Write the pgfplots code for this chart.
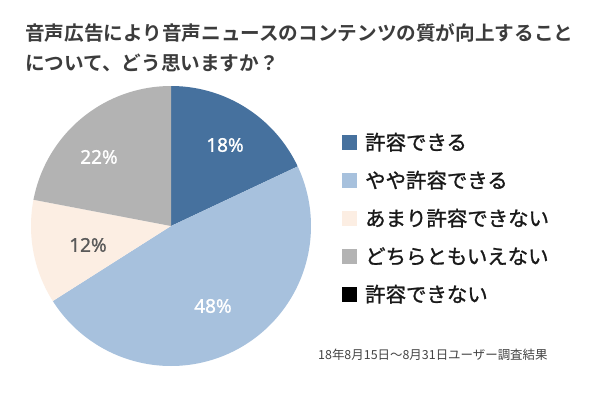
\documentclass[border=0pt]{standalone}
\usepackage{fontspec}
\setmainfont{Noto Sans CJK JP}[BoldFont={Noto Sans CJK JP Bold}]
\newfontfamily\legfont{Noto Sans CJK JP}[FakeBold=1.2]
\newfontfamily\numfont{Noto Sans}[FakeBold=1.0]
\usepackage{pgfplots}
\pgfplotsset{compat=1.18}
\definecolor{c1}{HTML}{46719E}
\definecolor{c2}{HTML}{A7C1DD}
\definecolor{c3}{HTML}{FCEEE3}
\definecolor{c4}{HTML}{B3B3B3}
\definecolor{c5}{HTML}{000000}
\definecolor{ttl}{HTML}{3C3C3C}
\definecolor{ftn}{HTML}{444444}
\definecolor{lbl}{HTML}{5A5A5A}
% shares (%)
\def\pA{18}\def\pB{48}\def\pC{12}\def\pD{22}\def\pE{0}
\pgfmathsetmacro\aA{90}
\pgfmathsetmacro\aB{\aA-3.6*\pA}
\pgfmathsetmacro\aC{\aB-3.6*\pB}
\pgfmathsetmacro\aD{\aC-3.6*\pC}
\pgfmathsetmacro\aE{\aD-3.6*\pD}
\def\cx{171}\def\cy{226}\def\R{140}
\begin{document}
\begin{tikzpicture}
\fill[white] (0,0) rectangle (600bp,399bp);
\begin{axis}[at={(0,0)}, anchor=south west, scale only axis,
  width=600bp, height=399bp, xmin=0, xmax=600, ymin=0, ymax=399,
  y dir=reverse, hide axis, clip=false,
  legend image code/.code={\fill[#1] (0bp,0.3bp) rectangle (15bp,15.3bp);},
  legend style={at={(axis cs:342,131.8)}, anchor=north west, draw=none, fill=none,
    inner sep=0pt, row sep=17.6bp,
    nodes={inner sep=0pt, text height=18bp, text depth=2.4bp, anchor=base west,
      font=\legfont\fontsize{20.5}{21}\selectfont, text=black!90},
    /tikz/every odd column/.style={column sep=8bp}},
  legend cell align=left]
\addplot[fill=c1, draw=none, domain=\aB:\aA, samples=80, forget plot]
  ({\cx+\R*cos(x)},{\cy-\R*sin(x)}) -- (axis cs:\cx,\cy) -- cycle;
\addplot[fill=c2, draw=none, domain=\aC:\aB, samples=160, forget plot]
  ({\cx+\R*cos(x)},{\cy-\R*sin(x)}) -- (axis cs:\cx,\cy) -- cycle;
\addplot[fill=c3, draw=none, domain=\aD:\aC, samples=60, forget plot]
  ({\cx+\R*cos(x)},{\cy-\R*sin(x)}) -- (axis cs:\cx,\cy) -- cycle;
\addplot[fill=c4, draw=none, domain=\aE:\aD, samples=80, forget plot]
  ({\cx+\R*cos(x)},{\cy-\R*sin(x)}) -- (axis cs:\cx,\cy) -- cycle;
\addlegendimage{fill=c1, draw=none}\addlegendentry{許容できる}
\addlegendimage{fill=c2, draw=none}\addlegendentry{やや許容できる}
\addlegendimage{fill=c3, draw=none}\addlegendentry{あまり許容できない}
\addlegendimage{fill=c4, draw=none}\addlegendentry{どちらともいえない}
\addlegendimage{fill=c5, draw=none}\addlegendentry{許容できない}
\node[font=\numfont\fontsize{19}{19}\selectfont, text=white] at (axis cs:225,145) {\pA\%};
\node[font=\numfont\fontsize{19}{19}\selectfont, text=white] at (axis cs:213,306) {\pB\%};
\node[font=\numfont\fontsize{19}{19}\selectfont, text=lbl] at (axis cs:88,245) {\pC\%};
\node[font=\numfont\fontsize{19}{19}\selectfont, text=white] at (axis cs:99,157) {\pD\%};
\node[anchor=west, inner sep=0pt, font=\bfseries\fontsize{19.7}{20}\selectfont, text=ttl] at (axis cs:25,33) {音声広告により音声ニュースのコンテンツの質が向上すること};
\node[anchor=west, inner sep=0pt, font=\bfseries\fontsize{19.7}{20}\selectfont, text=ttl] at (axis cs:25,63) {について、どう思いますか？};
\node[anchor=west, inner sep=0pt, font=\fontsize{12.5}{13}\selectfont, text=ftn] at (axis cs:318,355) {18年8月15日～8月31日ユーザー調査結果};
\end{axis}
\end{tikzpicture}
\end{document}
